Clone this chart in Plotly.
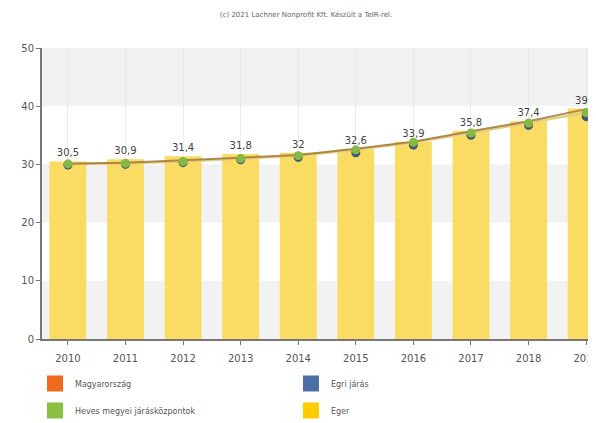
import plotly.graph_objects as go

years = ["2010", "2011", "2012", "2013", "2014", "2015", "2016", "2017", "2018", "2019"]
eger = [30.5, 30.9, 31.4, 31.8, 32, 32.6, 33.9, 35.8, 37.4, 39.6]
magyarorszag = [30.1, 30.3, 30.7, 31.1, 31.6, 32.7, 33.9, 35.7, 37.4, 39.5]
heves_jk = [30.1, 30.2, 30.5, 31.0, 31.5, 32.5, 33.8, 35.4, 37.1, 38.9]
egri_jaras = [29.9, 30.0, 30.3, 30.8, 31.2, 32.0, 33.3, 35.0, 36.7, 38.2]

series_names = ["Magyarország", "Heves megyei járásközpontok", "Egri járás", "Eger"]
series_colors = ["#F26B1D", "#8BBF3F", "#4A6FA5", "#FFCC00"]
legend_ids = ["legend", "legend", "legend2", "legend2"]

fig = go.Figure()

# Eger bars
fig.add_trace(go.Bar(
    x=years, y=eger, marker=dict(color="#FADC63", line=dict(width=0)),
    width=0.64, text=[f"{v:g}".replace(".", ",") for v in eger],
    textposition="outside", cliponaxis=False,
    textfont=dict(size=10, color="#444"), showlegend=False, name="Eger",
))
# Heves megyei járásközpontok line (light)
fig.add_trace(go.Scatter(
    x=years, y=heves_jk, mode="lines",
    line=dict(color="rgba(225,205,130,0.95)", width=2.5), showlegend=False,
    name="Heves megyei járásközpontok vonal",
))
# Magyarország line
fig.add_trace(go.Scatter(
    x=years, y=magyarorszag, mode="lines", line=dict(color="rgba(165,120,55,0.85)", width=2),
    showlegend=False, name="Magyarország",
))
# Egri járás markers
fig.add_trace(go.Scatter(
    x=years, y=egri_jaras, mode="markers",
    marker=dict(color="#3E5A78", size=9), showlegend=False, name="Egri járás",
))
# Heves markers
fig.add_trace(go.Scatter(
    x=years, y=heves_jk, mode="markers",
    marker=dict(color="#86B848", size=9), showlegend=False, name="Heves megyei járásközpontok",
))

# legend-only entries
for name, col, lg in zip(series_names, series_colors, legend_ids):
    fig.add_trace(go.Scatter(x=[None], y=[None], name=name, mode="markers",
                             marker=dict(color=col, symbol="square", size=19),
                             showlegend=True, legend=lg, legendgroup=name))

# alternating bands
for y0 in [0, 20, 40]:
    fig.add_shape(type="rect", xref="paper", yref="y", x0=0, x1=1, y0=y0, y1=y0 + 10,
                  fillcolor="#F2F2F2", line=dict(width=0), layer="below")

legend_common = dict(orientation="v", yanchor="top", xanchor="left",
                     font=dict(size=8, color="#555"), itemsizing="trace",
                     bgcolor="rgba(0,0,0,0)", tracegroupgap=8, traceorder="grouped")

fig.update_layout(
    width=596, height=423,
    margin=dict(l=34, r=0, t=40, b=92, autoexpand=False),
    paper_bgcolor="white", plot_bgcolor="white",
    separators=",.",
    font=dict(family="DejaVu Sans", size=10, color="#555"),
    title=dict(text="(c) 2021 Lachner Nonprofit Kft. Készült a TeIR-rel.",
               x=0.5, xanchor="center", y=0.9835, yref="container", yanchor="middle",
               font=dict(size=7, color="#666")),
    barmode="overlay",
    legend=dict(x=-0.0125, y=-0.103, **legend_common),
    legend2=dict(x=0.443, y=-0.103, **legend_common),
)
fig.update_xaxes(
    type="category", range=[-0.45, 9.31], showline=True, linecolor="#777", linewidth=2,
    ticks="outside", ticklen=4, tickcolor="#777", showgrid=True, gridcolor="rgba(220,220,220,0.5)",
    tickfont=dict(size=10, color="#555"), automargin=False, ticklabelstandoff=5,
)
fig.update_yaxes(
    range=[0, 50], dtick=10, showline=True, linecolor="#777", linewidth=2,
    ticks="outside", ticklen=4, tickcolor="#777", showgrid=False, zeroline=False,
    tickfont=dict(size=10, color="#555"), automargin=False,
)

fig.write_html("out.html")
